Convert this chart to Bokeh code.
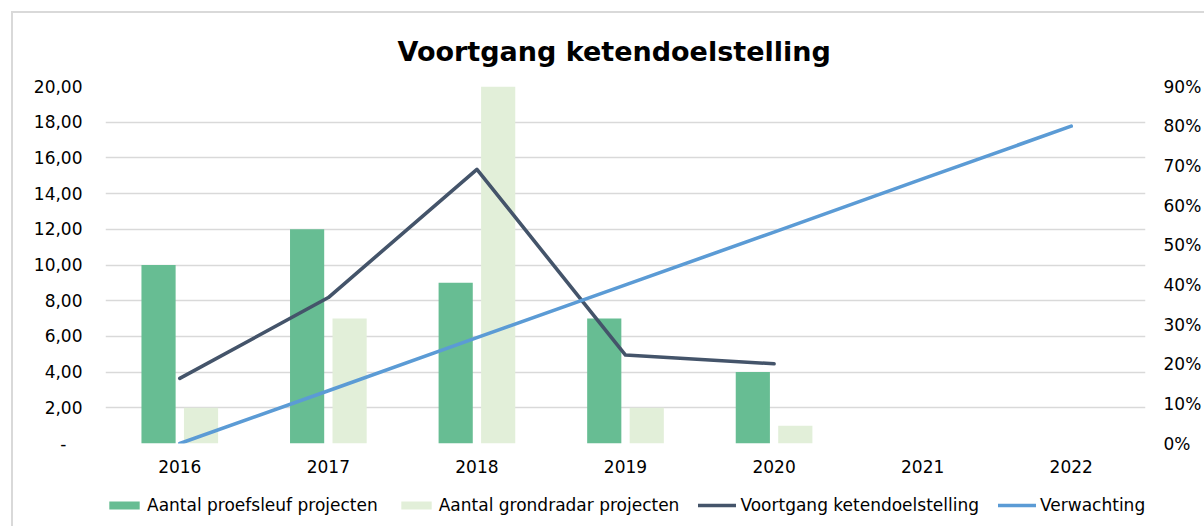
from bokeh.plotting import figure
from bokeh.layouts import column
from bokeh.models import (ColumnDataSource, Range1d, LinearAxis, FactorRange,
                          Legend, LegendItem, CustomJSTickFormatter, FixedTicker)
from bokeh.transform import dodge
from bokeh.embed import file_html
from bokeh.resources import INLINE

# ---- data ----
years = ["2016", "2017", "2018", "2019", "2020", "2021", "2022"]
bar_years = ["2016", "2017", "2018", "2019", "2020"]
proefsleuf = [10, 12, 9, 7, 4]
grondradar = [2, 7, 20, 2, 1]
voortgang_years = ["2016", "2017", "2018", "2019", "2020"]
voortgang_pct = [16.4, 36.8, 69.1, 22.3, 20.1]
verwachting_years = ["2016", "2017", "2018", "2019", "2020", "2021", "2022"]
verwachting_pct = [0.0, 13.3, 26.7, 40.0, 53.3, 66.7, 80.0]
left_ticks = [0, 2, 4, 6, 8, 10, 12, 14, 16, 18, 20]
right_ticks = [0, 10, 20, 30, 40, 50, 60, 70, 80, 90]
series_names = ["Aantal proefsleuf projecten", "Aantal grondradar projecten",
                "Voortgang ketendoelstelling", "Verwachting"]

FONT = "DejaVu Sans"
GREEN = "#67BD93"
LIGHT = "#E2EFD9"
DARK = "#44546A"
BLUE = "#5B9BD5"
GRID = "#D9D9D9"

bsrc = ColumnDataSource(dict(year=bar_years, a=proefsleuf, b=grondradar))
vsrc = ColumnDataSource(dict(year=voortgang_years, v=voortgang_pct))
wsrc = ColumnDataSource(dict(year=verwachting_years, v=verwachting_pct))

p = figure(width=1191, height=473, x_range=FactorRange(*years),
           y_range=Range1d(0, 20), output_backend="svg", toolbar_location=None,
           min_border_left=92, min_border_right=51, min_border_top=71,
           min_border_bottom=43)
p.outline_line_color = None
p.extra_y_ranges = {"pct": Range1d(0, 90)}

p.title.text = "Voortgang ketendoelstelling"
p.title.align = "left"
p.title.text_font = FONT
p.title.text_font_style = "bold"
p.title.text_font_size = "27px"
p.title.text_color = "#000000"
p.title.standoff = 40
p.title.offset = 292


def draw_series(fig, y_name=None):
    r1 = fig.vbar(x=dodge("year", -0.143, range=fig.x_range), top="a", width=0.23,
                  source=bsrc, fill_color=GREEN, line_color=None)
    r2 = fig.vbar(x=dodge("year", 0.143, range=fig.x_range), top="b", width=0.23,
                  source=bsrc, fill_color=LIGHT, line_color=None)
    kw = dict(y_range_name=y_name) if y_name else {}
    r3 = fig.line(x="year", y="v", source=vsrc, line_color=DARK,
                  line_width=3.6, line_cap="round", line_join="round", **kw)
    r4 = fig.line(x="year", y="v", source=wsrc, line_color=BLUE,
                  line_width=3.6, line_cap="round", line_join="round", **kw)
    return [r1, r2, r3, r4]


draw_series(p, "pct")


def style_axis(ax, standoff):
    ax.major_label_text_font = FONT
    ax.major_label_text_font_size = "17px"
    ax.major_label_text_color = "#000000"
    ax.axis_line_color = None
    ax.major_tick_line_color = None
    ax.minor_tick_line_color = None
    ax.major_tick_out = 0
    ax.major_tick_in = 0
    ax.minor_tick_out = 0
    ax.minor_tick_in = 0
    ax.major_label_standoff = standoff


style_axis(p.xaxis[0], 16)
p.xgrid.grid_line_color = None

yl = p.yaxis[0]
yl.ticker = FixedTicker(ticks=left_ticks)
yl.formatter = CustomJSTickFormatter(code="""
  if (tick == 0) { return "-   "; }
  return tick.toFixed(2).replace('.', ',');
""")
style_axis(yl, 23)

p.ygrid.ticker = FixedTicker(ticks=left_ticks)
p.ygrid.grid_line_color = GRID
p.ygrid.grid_line_width = 1.6

yr = LinearAxis(y_range_name="pct", ticker=FixedTicker(ticks=right_ticks),
                formatter=CustomJSTickFormatter(code="return tick.toFixed(0) + '%';"))
style_axis(yr, 18)
p.add_layout(yr, "right")

# ---- legend strip: same series drawn in a view that shows only the legend ----
p2 = figure(width=1191, height=40, x_range=FactorRange(*years),
            y_range=Range1d(1000000, 1000001), output_backend="svg",
            toolbar_location=None, x_axis_location=None, y_axis_location=None,
            min_border_left=0, min_border_right=0, min_border_top=0,
            min_border_bottom=0)
p2.grid.grid_line_color = None
p2.outline_line_color = None
leg_renderers = draw_series(p2)

legend = Legend(items=[LegendItem(label=n, renderers=[r])
                       for n, r in zip(series_names, leg_renderers)],
                orientation="horizontal", location=(0, 11))
legend.label_text_font = FONT
legend.label_text_font_size = "17px"
legend.label_text_color = "#000000"
legend.glyph_width = 38
legend.glyph_height = 10
legend.label_standoff = 4
legend.spacing = 19
legend.padding = 0
legend.margin = 0
legend.border_line_color = None
legend.background_fill_alpha = 0
p2.add_layout(legend)

col = column(p, p2, spacing=0)
col.styles = {"border-top": "2px solid #D9D9D9", "border-left": "2px solid #D9D9D9",
              "margin-top": "11px", "margin-left": "11px"}

open("out.html", "w").write(file_html(col, INLINE))
